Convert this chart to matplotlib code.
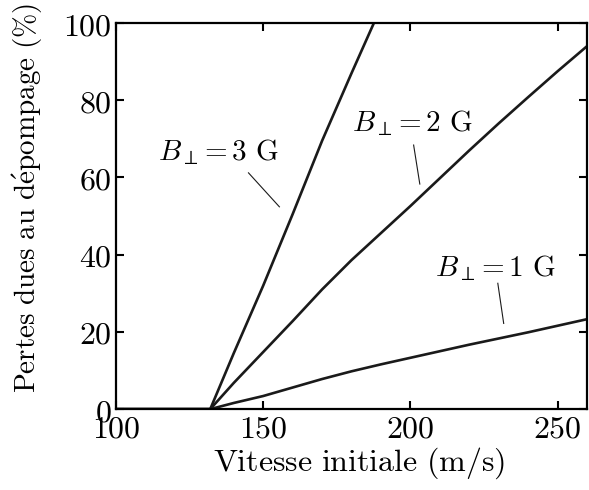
import matplotlib
matplotlib.use('Agg')
import matplotlib.pyplot as plt
import numpy as np

plt.rcParams['mathtext.fontset'] = 'cm'
plt.rcParams['font.family'] = 'serif'
plt.rcParams['font.serif'] = ['DejaVu Serif']

# vitesse initiale (m/s) et pertes (%) pour chaque champ
v_1G = [100, 132, 140, 150, 160, 170, 180, 190, 200, 210, 220, 230, 240, 250, 260]
p_1G = [0, 0, 1.6, 3.4, 5.6, 7.8, 9.8, 11.6, 13.3, 15.0, 16.7, 18.3, 19.9, 21.6, 23.3]
v_2G = [100, 132, 140, 150, 160, 170, 180, 190, 200, 210, 220, 230, 240, 250, 260]
p_2G = [0, 0, 6.8, 14.8, 22.8, 31.0, 38.6, 45.6, 52.6, 59.8, 67.0, 74.0, 80.8, 87.5, 94.0]
v_3G = [100, 132, 140, 150, 160, 170, 180, 187.6]
p_3G = [0, 0, 14.5, 32.0, 50.5, 69.5, 87.0, 100.0]

labels = [r'$B_\perp\!=3\ \mathrm{G}$', r'$B_\perp\!=2\ \mathrm{G}$', r'$B_\perp\!=1\ \mathrm{G}$']
label_pos = [(134.7, 66.6), (200.5, 74.2), (228.9, 36.5)]
pointers = [((145.0, 61.2), (155.5, 52.4)),
            ((201.1, 68.4), (203.2, 58.3)),
            ((229.7, 32.6), (231.7, 22.2))]

fig = plt.figure(figsize=(5.89, 4.90), dpi=100)
ax = fig.add_axes([0.197, 0.165, 0.7996, 0.788])

for x, y in [(v_1G, p_1G), (v_2G, p_2G), (v_3G, p_3G)]:
    ax.plot(x, y, color='#1a1a1a', lw=1.9)

for txt, (x, y), (a, b) in zip(labels, label_pos, pointers):
    ax.text(x, y, txt, fontsize=21, ha='center', va='center')
    ax.plot([a[0], b[0]], [a[1], b[1]], color='#1a1a1a', lw=0.8)

ax.set_xlim(100, 260)
ax.set_ylim(0, 100)
xt = [100, 150, 200, 250]
yt = [0, 20, 40, 60, 80, 100]
ax.set_xticks(xt)
ax.set_yticks(yt)
ax.set_xticklabels(['$%d$' % t for t in xt], fontsize=23)
ax.set_yticklabels(['$%d$' % t for t in yt], fontsize=23)
ax.tick_params(direction='in', top=True, right=True, length=6, width=1.5, pad=3)
for s in ax.spines.values():
    s.set_linewidth(1.6)

ax.set_xlabel(r'$\mathrm{Vitesse\ initiale\ (m/s)}$', fontsize=23)
ax.set_ylabel(r'$\mathrm{Pertes\ dues\ au\ d\acute{e}pompage\ (\%)}$', fontsize=21)
ax.xaxis.set_label_coords(0.517, -0.14)
ax.yaxis.set_label_coords(-0.187, 0.547)
ax.xaxis.label.set_va('center')
ax.yaxis.label.set_va('center')

fig.savefig('out.png', dpi=100)
